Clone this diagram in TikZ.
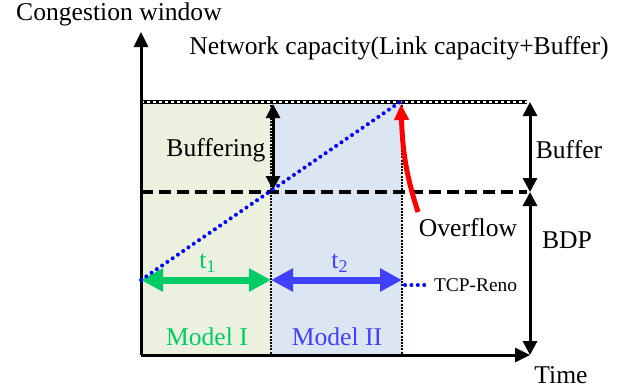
\documentclass[tikz,border=0pt]{standalone}
\usepackage{fontspec}
\setmainfont{Liberation Serif}
\usepackage{xcolor}
\usetikzlibrary{arrows.meta, positioning, calc}

\definecolor{modelgreen}{RGB}{0,204,102}
\definecolor{modelblue}{RGB}{64,64,255}
\definecolor{greenfill}{RGB}{235,241,222}
\definecolor{bluefill}{RGB}{220,230,242}

\begin{document}
\begin{tikzpicture}[
      x=0.5pt, y=-0.5pt,
      font=\fontsize{12.8}{15}\selectfont,
      axis/.style={-{Triangle[length=7.5pt,width=7pt]}, line width=1.5pt},
      span/.style={{Triangle[length=7pt,width=7pt]}-{Triangle[length=7pt,width=7pt]}, line width=1.5pt},
      period/.style={{Triangle[length=11pt,width=11pt]}-{Triangle[length=11pt,width=11pt]}, line width=3.5pt},
      levelline/.style={line width=2pt, dash pattern=on 6pt off 3pt},
      capline/.style={line width=1.6pt},
      capinner/.style={white, line width=0.6pt, dash pattern=on 1.5pt off 1.5pt},
      border/.style={line width=1pt, dash pattern=on 1pt off 0.6pt},
      reno/.style={blue, line width=2pt, line cap=round, dash pattern=on 0pt off 3.2pt},
      overflow/.style={-{Triangle[length=8pt,width=7pt]}, red, line width=2.5pt}
  ]
      \useasboundingbox (0,0) rectangle (640,388);

      % --- Key points ---
      \coordinate (O) at (141,355);
      \coordinate (ytip) at (141,32);
      \coordinate (xtip) at (530,355);
      \coordinate (capL) at (141,102);
      \coordinate (capR) at (527,102);
      \coordinate (bdpL) at (141,192);
      \coordinate (bdpR) at (527,192);
      \coordinate (splitA) at (271,102);
      \coordinate (splitB) at (402,102);
      \coordinate (renoStart) at (141,280);
      \coordinate (renoEnd) at (400,102);

      % --- Model regions ---
      \fill[greenfill] (capL) rectangle (splitA |- O);
      \fill[bluefill] (splitA) rectangle (splitB |- O);
      \draw[border] (splitA) -- (splitA |- O);
      \draw[border] (splitB) -- (splitB |- O);

      % --- Levels ---
      \draw[capline] (capL) -- (capR);
      \draw[capinner] (capL) -- (capR);
      \draw[levelline] (bdpL) -- (bdpR);

      % --- Axes ---
      \draw[axis] (O) -- (ytip);
      \draw[axis] (O) -- (xtip);

      % --- Labels ---
      \node (cwnd) at (119,14) {Congestion window};
      \node (netcap) at (399,48) {Network capacity(Link capacity+Buffer)};
      \node (time) at (561,375) {Time};
      \node (buffer) at (569,150) {Buffer};
      \node (bdp) at (567,240) {BDP};
      \node (buffering) at (216,150) {Buffering};
      \node (ovf) at (468,228) {Overflow};
      \node[modelgreen] (model1) at (207,337) {Model I};
      \node[modelblue] (model2) at (337,337) {Model II};
      \node[modelgreen] (t1) at (208,263) {t\textsubscript{1}};
      \node[modelblue] (t2) at (340,263) {t\textsubscript{2}};
      \node[font=\fontsize{9.7}{11}\selectfont, anchor=west] (renolbl) at (427,285) {TCP-Reno};

      % --- Spans ---
      \draw[span] ($(capL -| splitA) + (2,2)$) -- ($(bdpL -| splitA) + (2,-2)$);
      \draw[span] (capR -| xtip) -- (bdpR -| xtip);
      \draw[span] (bdpR -| xtip) -- (xtip);
      \draw[period, modelgreen] (renoStart) -- (renoStart -| splitA);
      \draw[period, modelblue] (renoStart -| splitA) -- (renoStart -| splitB);

      % --- Window growth ---
      \draw[reno] (renoStart) -- (renoEnd);
      \draw[reno] ($(renolbl.west) + (-22,0)$) -- (renolbl.west);
      \coordinate (ovfStart) at (418,212);
      \draw[overflow] (ovfStart) to[out=108, in=-88] ($(renoEnd) + (1,2)$);

  \end{tikzpicture}
\end{document}
